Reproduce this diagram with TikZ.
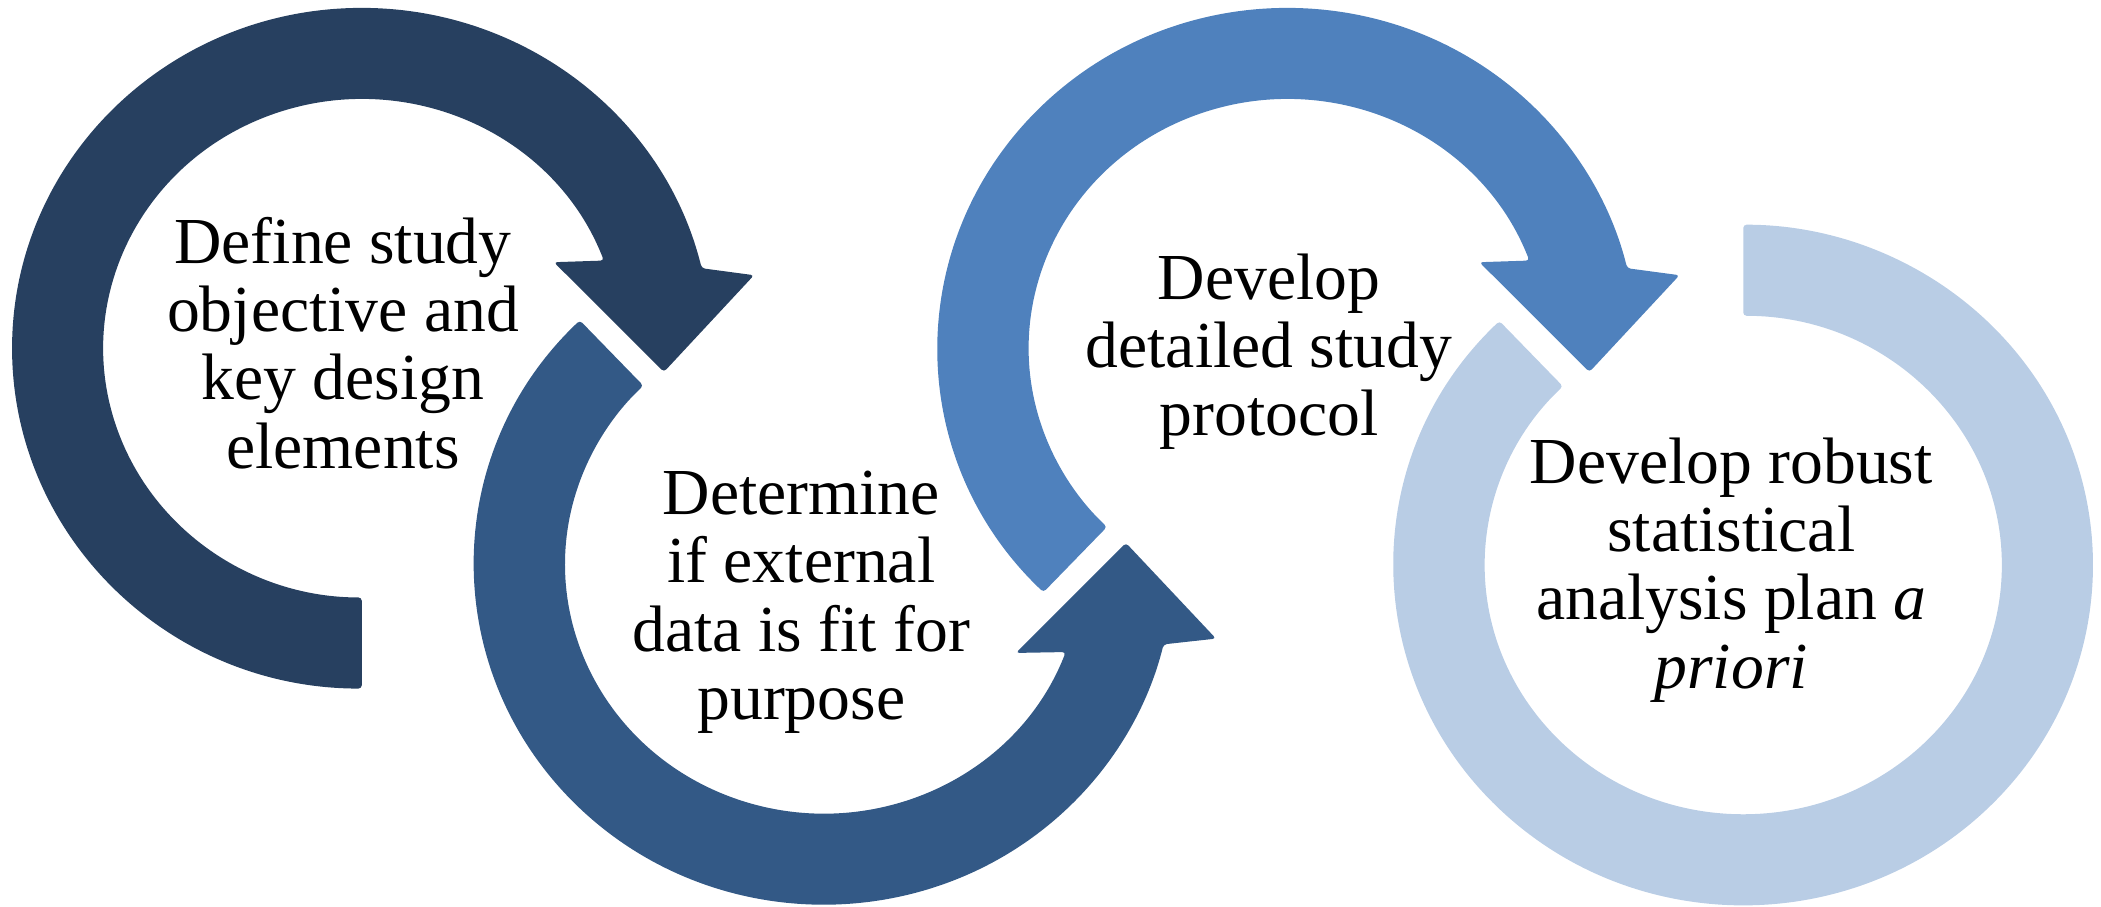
\documentclass[tikz,border=0pt]{standalone}
\usepackage{fontspec}
\setmainfont{Liberation Serif}
\definecolor{ringA}{RGB}{39,64,96}
\definecolor{ringB}{RGB}{51,89,134}
\definecolor{ringC}{RGB}{79,129,189}
\definecolor{ringD}{RGB}{185,205,229}
\tikzset{
  ring/.style={rounded corners=2.5pt},
  txt/.style={align=center, inner sep=0pt, font=\fontsize{49}{51}\selectfont, text=black}
}
\begin{document}
\begin{tikzpicture}[x=1pt,y=1pt]
\useasboundingbox (0,0) rectangle (1568,676.2);
% ring 1
\fill[ringA, ring, shift={(270,416.3)}]
  (270:261pt and 254pt) arc[start angle=270, end angle=13.6, x radius=261pt, y radius=254pt]
  -- (292.7,54.5) -- (225.5,-17.7) -- (143.4,64.2) -- (20.6:193pt and 186pt)
  arc[start angle=20.6, end angle=270, x radius=193pt, y radius=186pt] -- cycle;
% ring 2
\fill[ringB, ring, shift={(614.7,255)}]
  (134.2:261pt and 254pt) arc[start angle=134.2, end angle=346.4, x radius=261pt, y radius=254pt]
  -- (292.8,-55.4) -- (225.6,16) -- (143.5,-66.1) -- (339.4:193pt and 186pt)
  arc[start angle=339.4, end angle=134.2, x radius=193pt, y radius=186pt] -- cycle;
% ring 3
\fill[ringC, ring, shift={(960.7,416.3)}]
  (225.8:261pt and 254pt) arc[start angle=225.8, end angle=13.6, x radius=261pt, y radius=254pt]
  -- (292.7,54.5) -- (225.5,-17.7) -- (143.4,64.2) -- (20.6:193pt and 186pt)
  arc[start angle=20.6, end angle=225.8, x radius=193pt, y radius=186pt] -- cycle;
% ring 4
\fill[ringD, ring, shift={(1301,254.5)}]
  (134.2:261pt and 254pt) arc[start angle=134.2, end angle=450, x radius=261pt, y radius=254pt]
  -- (450:193pt and 186pt)
  arc[start angle=450, end angle=134.2, x radius=193pt, y radius=186pt] -- cycle;
% texts
\node[txt] (t1) at (256,420.4) {Define study\\objective and\\key design\\elements};
\node[txt] (t2) at (598,226.8) {Determine\\if external\\data is fit for\\purpose};
\node[txt] (t3) at (947,413.8) {Develop\\detailed study\\protocol};
\node[txt] (t4) at (1292,251) {Develop robust\\statistical\\analysis plan \textit{a}\\\textit{priori}};
\end{tikzpicture}
\end{document}
